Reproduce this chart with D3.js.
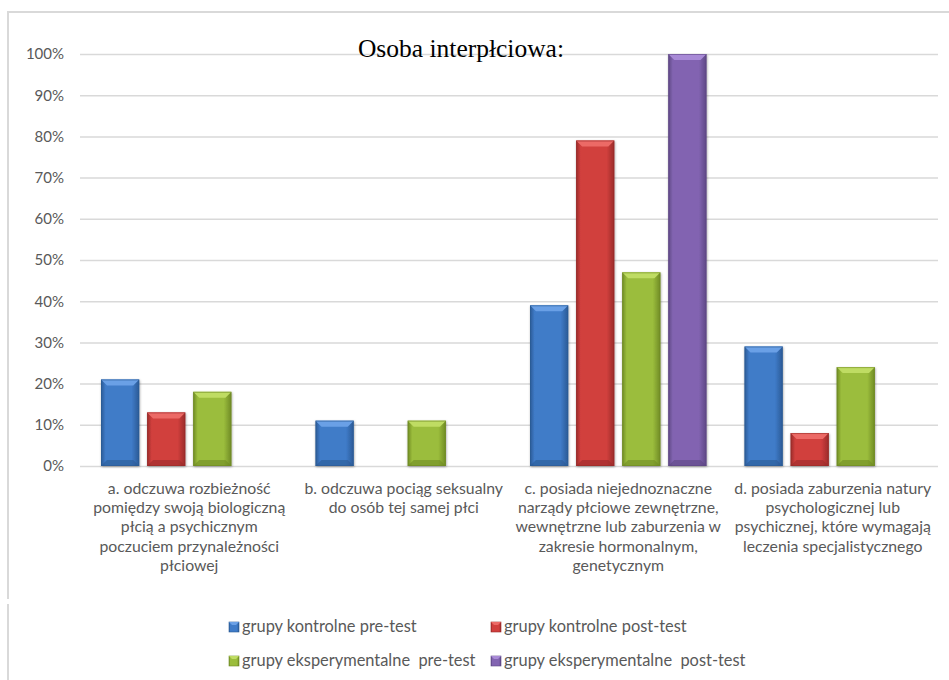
<!DOCTYPE html>
<html>
<head>
<meta charset="utf-8">
<script src="https://cdn.jsdelivr.net/npm/d3@7"></script>
<style>
  body { margin: 0; background: #fff; }
  svg { display: block; }
  text { white-space: pre; }
</style>
</head>
<body>
<script>
const w = 949;
const h = 680;

// data
const categories = [
  ["a. odczuwa rozbieżność", "pomiędzy swoją biologiczną", "płcią a psychicznym", "poczuciem przynależności", "płciowej"],
  ["b. odczuwa pociąg seksualny", "do osób tej samej płci"],
  ["c. posiada niejednoznaczne", "narządy płciowe zewnętrzne,", "wewnętrzne lub zaburzenia w", "zakresie hormonalnym,", "genetycznym"],
  ["d. posiada zaburzenia natury", "psychologicznej lub", "psychicznej, które wymagają", "leczenia specjalistycznego"]
];
const seriesNames = [
  "grupy kontrolne pre-test",
  "grupy kontrolne post-test",
  "grupy eksperymentalne  pre-test",
  "grupy eksperymentalne  post-test"
];
const kontrolnePre = [21, 11, 39, 29];
const kontrolnePost = [13, 0, 79, 8];
const eksperPre = [18, 11, 47, 24];
const eksperPost = [0, 0, 100, 0];
const yTicks = [0, 10, 20, 30, 40, 50, 60, 70, 80, 90, 100];

const series = [kontrolnePre, kontrolnePost, eksperPre, eksperPost];
const colors = [
  {base: "#3f7bc8", light: "#6aa0e6", dark: "#2b5a95"},
  {base: "#d13f3d", light: "#ec6a66", dark: "#992b2a"},
  {base: "#9bbd3c", light: "#bfdc63", dark: "#6f8a25"},
  {base: "#8264b1", light: "#a88ad6", dark: "#5d4784"}
];

const margin = {left: 80, right: 11, top: 54, bottom: 214};

const svg = d3.select("body").append("svg")
  .attr("width", w)
  .attr("height", h);

// outer frame
svg.append("path")
  .attr("d", "M8,680 L8,604 M8,599 L8,12 L949,12")
  .attr("fill", "none")
  .attr("stroke", "#d9d9d9")
  .attr("stroke-width", 2);

const x0 = d3.scaleBand()
  .domain(d3.range(categories.length))
  .range([margin.left, w - margin.right]);

const x1 = d3.scaleBand()
  .domain(d3.range(series.length))
  .range([21, x0.bandwidth() - 17])
  .paddingInner(0.17);

const y = d3.scaleLinear()
  .domain([0, 100])
  .range([h - margin.bottom, margin.top]);

// gridlines + y axis
const yAxis = d3.axisLeft(y)
  .tickValues(yTicks)
  .tickSize(-(w - margin.right - margin.left))
  .tickPadding(16)
  .tickFormat(d => d + "%");

const ga = svg.append("g")
  .attr("transform", `translate(${margin.left},0)`)
  .call(yAxis);
ga.select(".domain").remove();
ga.selectAll(".tick line").attr("stroke", "#d9d9d9").attr("stroke-width", 1.5);
ga.selectAll(".tick text")
  .attr("fill", "#595959")
  .attr("font-family", "Lato, 'Liberation Sans', sans-serif")
  .attr("font-size", 15);

// gradients
const defs = svg.append("defs");
colors.forEach((c, i) => {
  const g = defs.append("linearGradient").attr("id", "grad" + i)
    .attr("x1", 0).attr("x2", 1).attr("y1", 0).attr("y2", 0);
  g.append("stop").attr("offset", "0%").attr("stop-color", c.dark);
  g.append("stop").attr("offset", "12%").attr("stop-color", c.base);
  g.append("stop").attr("offset", "80%").attr("stop-color", c.base);
  g.append("stop").attr("offset", "100%").attr("stop-color", c.dark);
});
const shadow = defs.append("filter").attr("id", "shadow")
  .attr("x", "-20%").attr("y", "-20%").attr("width", "140%").attr("height", "140%");
shadow.append("feDropShadow").attr("dx", 0.5).attr("dy", 1)
  .attr("stdDeviation", 1.2).attr("flood-color", "#000").attr("flood-opacity", 0.35);

// bars
const groups = svg.append("g").selectAll("g")
  .data(categories)
  .join("g")
  .attr("transform", (d, i) => `translate(${x0(i)},0)`);

const bev = 6;
groups.each(function(cat, ci) {
  const g = d3.select(this);
  series.forEach((s, si) => {
    const v = s[ci];
    if (!v) return;
    const bx = x1(si), bw = x1.bandwidth();
    const top = y(v), bot = y(0);
    const bar = g.append("g").attr("filter", "url(#shadow)");
    bar.append("rect")
      .attr("x", bx).attr("y", top)
      .attr("width", bw).attr("height", bot - top)
      .attr("fill", `url(#grad${si})`);
    const b = Math.min(bev, (bot - top) / 2);
    // top bevel
    bar.append("path")
      .attr("d", `M${bx},${top} L${bx + bw},${top} L${bx + bw - b},${top + b} L${bx + b},${top + b} Z`)
      .attr("fill", colors[si].light);
    // bottom bevel
    bar.append("path")
      .attr("d", `M${bx},${bot} L${bx + bw},${bot} L${bx + bw - b},${bot - b} L${bx + b},${bot - b} Z`)
      .attr("fill", colors[si].dark).attr("opacity", 0.6);
    bar.append("rect")
      .attr("x", bx + 0.5).attr("y", top + 0.5)
      .attr("width", bw - 1).attr("height", bot - top - 1)
      .attr("fill", "none").attr("stroke", colors[si].dark).attr("stroke-width", 1).attr("opacity", 0.6);
  });
});

// category labels
groups.append("text")
  .attr("text-anchor", "middle")
  .attr("fill", "#595959")
  .attr("font-family", "Lato, 'Liberation Sans', sans-serif")
  .attr("font-size", 15.8)
  .selectAll("tspan")
  .data(d => d)
  .join("tspan")
  .attr("x", x0.bandwidth() / 2 + 2)
  .attr("y", (d, i) => 494 + i * 19.2)
  .text(d => d);

// title
svg.append("text")
  .attr("x", 461)
  .attr("y", 57)
  .attr("text-anchor", "middle")
  .attr("font-family", "'Liberation Serif', 'DejaVu Serif', serif")
  .attr("font-size", 25.5)
  .attr("fill", "#000")
  .text("Osoba interpłciowa:");

// legend
const legX = [229, 491];
const legY = [632, 666];
const leg = svg.append("g").selectAll("g")
  .data(seriesNames)
  .join("g")
  .attr("transform", (d, i) => `translate(${legX[i % 2]},${legY[Math.floor(i / 2)]})`);
leg.append("rect")
  .attr("x", 0).attr("y", -10)
  .attr("width", 10).attr("height", 10)
  .attr("fill", (d, i) => `url(#grad${i})`)
  .attr("stroke", (d, i) => colors[i].dark).attr("stroke-width", 0.6);
leg.append("path")
  .attr("d", "M0,-10 L10,-10 L7,-7 L3,-7 Z")
  .attr("fill", (d, i) => colors[i].light);
leg.append("text")
  .attr("x", 13)
  .attr("y", 0)
  .attr("fill", "#595959")
  .attr("font-family", "Lato, 'Liberation Sans', sans-serif")
  .attr("font-size", 16.4)
  .text(d => d);
</script>
</body>
</html>
